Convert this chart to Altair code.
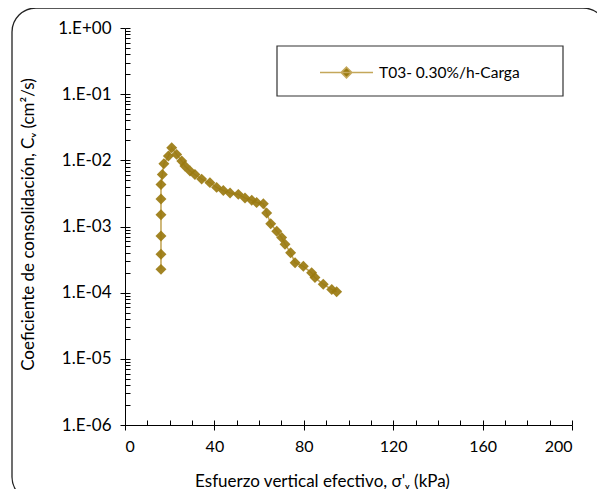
import altair as alt
import pandas as pd

# ---- data ----
sigma = [16.1, 16.1, 16.1, 16.1, 16.1, 16.1, 16.7, 17.4, 19.4, 20.9,
         23.1, 25.4, 26.8, 29.1, 31.3, 34.3, 38.0, 41.0, 44.0, 47.0,
         50.7, 53.7, 56.7, 58.9, 61.9, 63.4, 65.2, 67.9, 70.1, 71.6,
         74.1, 76.1, 79.8, 83.5, 85.0, 88.7, 92.5, 94.7]
cv = [2.25e-4, 3.8e-4, 7.2e-4, 1.5e-3, 2.6e-3, 4.3e-3, 6.1e-3, 8.9e-3, 1.16e-2, 1.55e-2,
      1.23e-2, 9.8e-3, 8.2e-3, 6.9e-3, 6.1e-3, 5.2e-3, 4.6e-3, 3.9e-3, 3.5e-3, 3.2e-3,
      3.06e-3, 2.7e-3, 2.5e-3, 2.3e-3, 2.2e-3, 1.6e-3, 1.1e-3, 8.5e-4, 6.8e-4, 5.4e-4,
      4.0e-4, 2.84e-4, 2.5e-4, 2.0e-4, 1.69e-4, 1.34e-4, 1.12e-4, 1.03e-4]
series_name = "T03- 0.30%/h-Carga"

y_major = [1e-6, 1e-5, 1e-4, 1e-3, 1e-2, 1e-1, 1.0]
y_minor = [m * 10.0 ** k for k in range(-6, 0) for m in range(1, 10)] + [1.0]
x_major = [0, 40, 80, 120, 160, 200]
x_minor = list(range(0, 201, 10))

df = pd.DataFrame({
    "sigma": sigma,
    "cv": cv,
    "serie": [series_name] * len(sigma),
    "orden": list(range(len(sigma))),
})

FONT = "Lato"
LINE = "#C4A75A"
MARK = "#9A7A10"
W, H = 447, 397

xs = alt.Scale(domain=[0, 200], nice=False, zero=False)
ys = alt.Scale(type="log", domain=[1e-6, 1], nice=False)

base = alt.Chart(df)

line = base.mark_line(color=LINE, strokeWidth=1.6).encode(
    x=alt.X("sigma:Q", scale=xs, axis=alt.Axis(
        values=x_major, grid=False, tickSize=5, labelPadding=8, labelFontSize=16,
        title="Esfuerzo vertical efectivo, σ'ᵥ (kPa)",
        titleX=197, titleY=56, titleBaseline="middle")),
    y=alt.Y("cv:Q", scale=ys, axis=alt.Axis(
        values=y_major, grid=False, tickSize=5, labelPadding=9, labelFontSize=17,
        labelExpr="datum.value >= 1 ? '1.E+00' : '1.E-0' + round(-log(datum.value)/LN10)",
        title="Coeficiente de consolidación, Cᵥ  (cm²/s)",
        titleX=-97, titleY=196, titleBaseline="middle", titleAngle=-90)),
    order="orden:Q",
)

points = base.mark_point(shape="diamond", filled=True, size=120, opacity=0.92).encode(
    x=alt.X("sigma:Q", scale=xs, axis=None),
    y=alt.Y("cv:Q", scale=ys, axis=None),
    color=alt.Color("serie:N", scale=alt.Scale(range=[MARK]), legend=alt.Legend(
        title=None, orient="none", legendX=194, legendY=17, padding=0,
        symbolType="M-1,0L1,0M0,-0.2L0.2,0L0,0.2L-0.2,0Z",
        symbolSize=2809, symbolStrokeColor=LINE, symbolFillColor=MARK,
        symbolStrokeWidth=1.6, symbolOpacity=1, labelOffset=5,
        labelFont=FONT, labelFontSize=15.5, labelColor="black", labelLimit=300)),
)

minor = base.mark_point(opacity=0).encode(
    x=alt.X("sigma:Q", scale=xs, axis=alt.Axis(
        orient="top", offset=-H, values=x_minor, labels=False, domain=False,
        grid=False, tickSize=5, title=None)),
    y=alt.Y("cv:Q", scale=ys, axis=alt.Axis(
        orient="right", offset=-W, values=y_minor, labels=False, domain=False,
        grid=False, tickSize=5, title=None)),
)

frame_df = pd.DataFrame({"k": [0]})
border = alt.Chart(frame_df).mark_rect(
    fillOpacity=0, stroke="#222222", strokeWidth=1.3, cornerRadius=24, clip=False
).encode(x=alt.value(-113), x2=alt.value(482), y=alt.value(-20), y2=alt.value(473))

legend_box = alt.Chart(frame_df).mark_rect(
    fill="white", stroke="#333333", strokeWidth=1.2, clip=False
).encode(x=alt.value(152), x2=alt.value(438), y=alt.value(18), y2=alt.value(68))

chart = alt.layer(border, legend_box, minor, line, points).resolve_axis(
    x="independent", y="independent"
).properties(
    width=W, height=H,
    autosize=alt.AutoSizeParams(type="none"),
    padding={"left": 117, "top": 20, "right": 25, "bottom": 64},
).configure_view(stroke=None).configure_axis(
    labelFont=FONT, labelColor="black",
    titleFont=FONT, titleFontSize=17, titleFontWeight="normal", titleColor="black",
    domainColor="black", tickColor="black", domainWidth=1, tickWidth=1,
).configure_legend(labelFont=FONT)

chart.save("out.html", embed_options={"renderer": "svg", "actions": False})
